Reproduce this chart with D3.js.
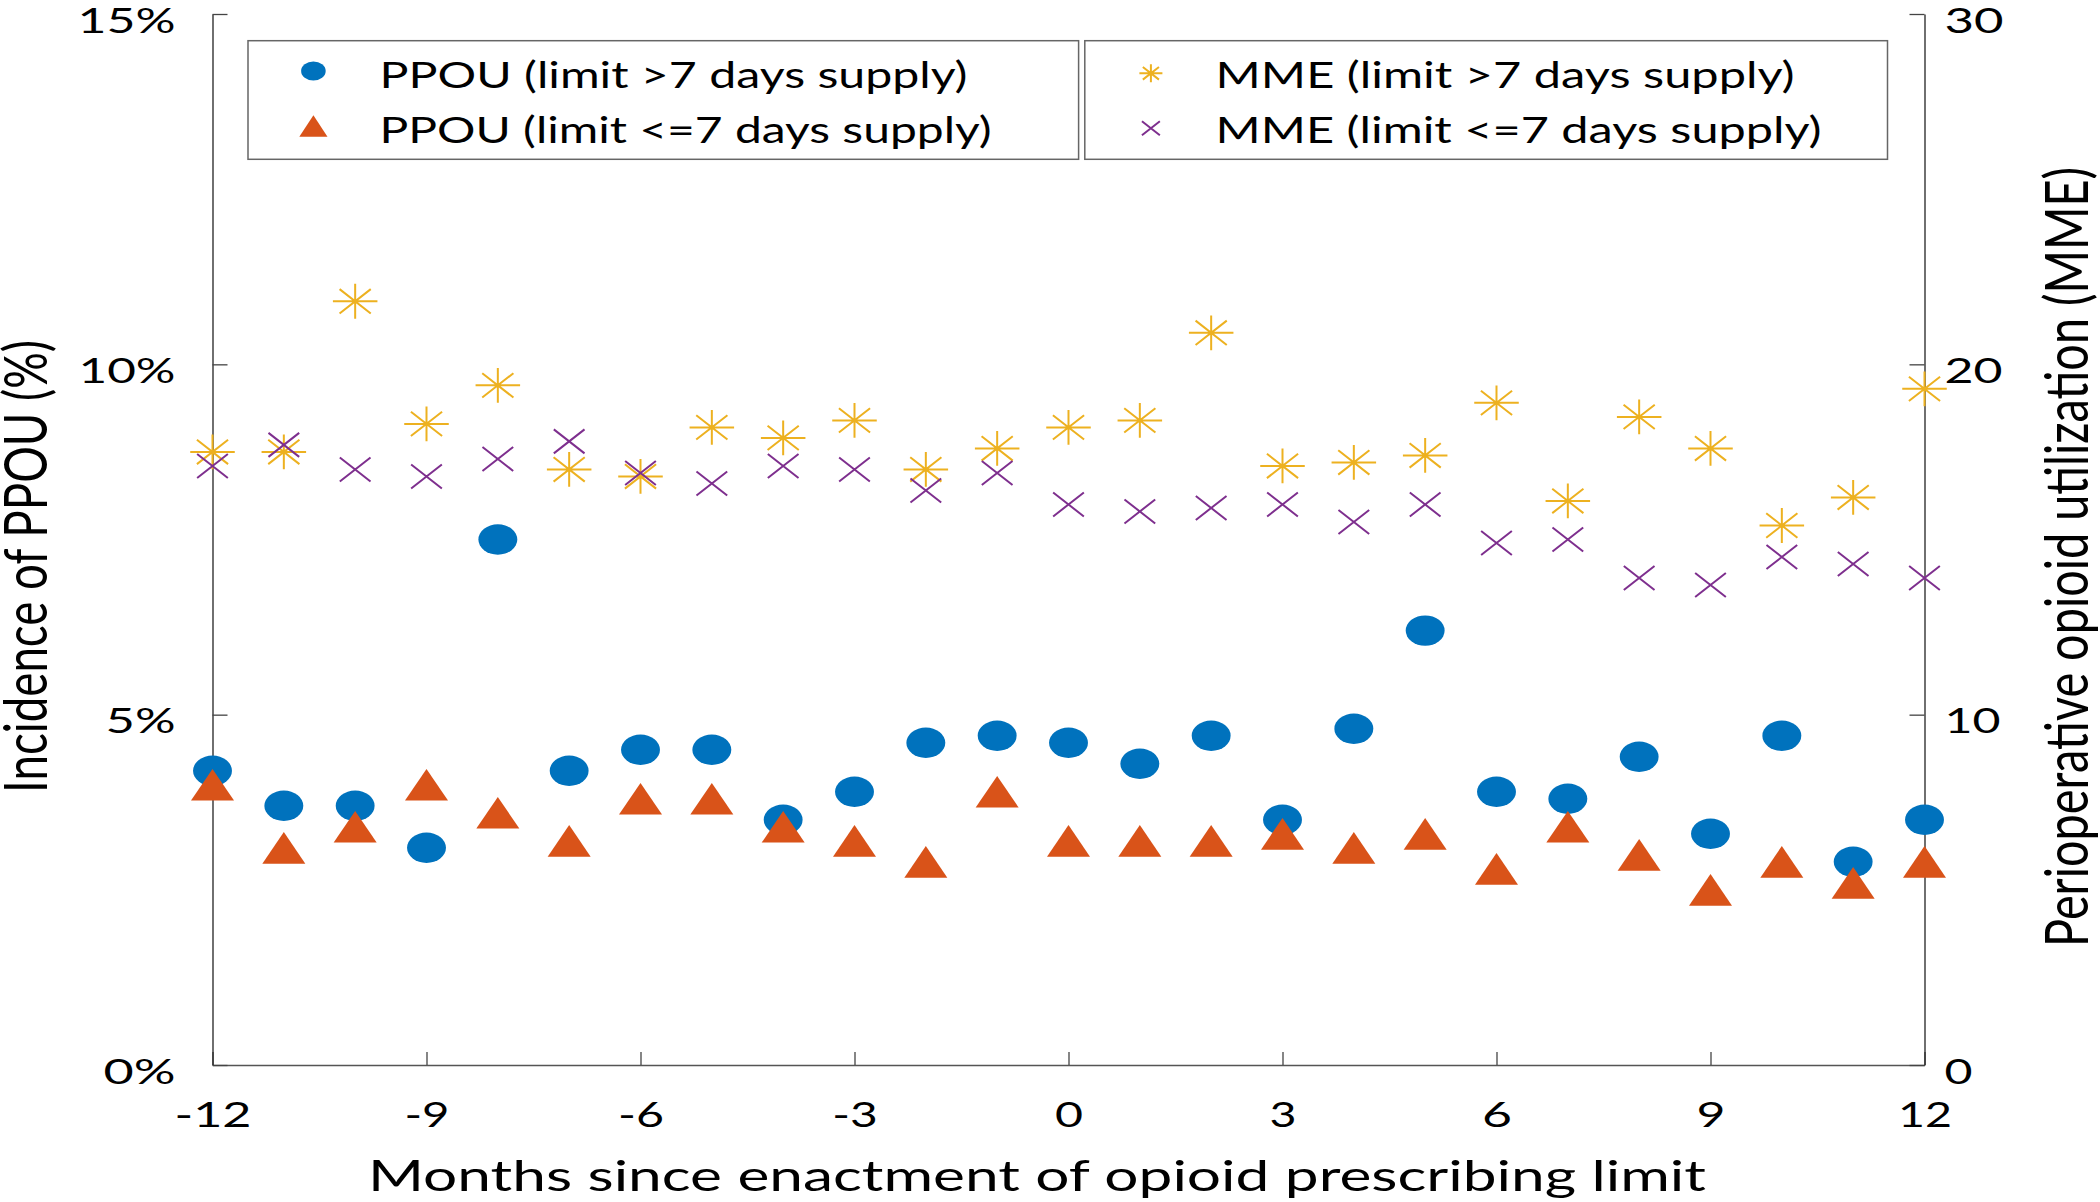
<!DOCTYPE html>
<html><head><meta charset="utf-8">
<script src="https://cdn.jsdelivr.net/npm/d3@7"></script>
<style>body{margin:0;background:#fff}svg{display:block}text{font-family:Lato,"Open Sans",sans-serif;fill:#000}</style>
</head><body><svg id="c" width="2100" height="1202"></svg>
<script>
const months = [-12,-11,-10,-9,-8,-7,-6,-5,-4,-3,-2,-1,0,1,2,3,4,5,6,7,8,9,10,11,12];
const ppouOver7  = [4.2,3.7,3.7,3.1,7.5,4.2,4.5,4.5,3.5,3.9,4.6,4.7,4.6,4.3,4.7,3.5,4.8,6.2,3.9,3.8,4.4,3.3,4.7,2.9,3.5];
const ppouUnder7 = [4.0,3.1,3.4,4.0,3.6,3.2,3.8,3.8,3.4,3.2,2.9,3.9,3.2,3.2,3.2,3.3,3.1,3.3,2.8,3.4,3.0,2.5,2.9,2.6,2.9];
const mmeOver7   = [17.5,17.5,21.8,18.3,19.4,17.0,16.8,18.2,17.9,18.4,17.0,17.6,18.2,18.4,20.9,17.1,17.2,17.4,18.9,16.1,18.5,17.6,15.4,16.2,19.3];
const mmeUnder7  = [17.1,17.7,17.0,16.8,17.3,17.8,16.9,16.6,17.1,17.0,16.4,16.9,16.0,15.8,15.9,16.0,15.5,16.0,14.9,15.0,13.9,13.7,14.5,14.3,13.9];
const xTicks = [-12,-9,-6,-3,0,3,6,9,12];
const xTickLabels = ["-12","-9","-6","-3","0","3","6","9","12"];
const yLeftTicks = [0,5,10,15];
const yLeftLabels = ["0%","5%","10%","15%"];
const yRightTicks = [0,10,20,30];
const yRightLabels = ["0","10","20","30"];
const legendLabels = ["PPOU (limit >7 days supply)","PPOU (limit <=7 days supply)","MME (limit >7 days supply)","MME (limit <=7 days supply)"];
const xTitle = "Months since enactment of opioid prescribing limit";
const yLeftTitle = "Incidence of PPOU (%)";
const yRightTitle = "Perioperative opioid utilization (MME)";

const C = {blue:"#0072BD", orange:"#D95319", yellow:"#EDB120", purple:"#7E2F8E"};
const S = 1.28; // horizontal stretch of the reference
const svg = d3.select("#c");
const L = 212.5, R = 1924.5, T = 14, B = 1065;
const x = d3.scaleLinear().domain([-12,12]).range([L,R]);
const yL = d3.scaleLinear().domain([0,15]).range([B,T]);
const yR = d3.scaleLinear().domain([0,30]).range([B,T]);

// width of each tick label as drawn (pixels), used to fit the stretched look
const tickWidth = {"-12":77,"-9":45,"-6":46,"-3":45.5,"0":28,"3":27,"6":30,"9":29,"12":54,
                   "0%":72,"5%":70,"10%":97,"15%":98,"10":56,"20":58,"30":59};
function fitText(sel){ sel.attr("textLength",function(){return tickWidth[this.textContent]/S;})
  .attr("lengthAdjust","spacingAndGlyphs"); }

// axes
const gx = svg.append("g").attr("transform",`translate(0,${B})`)
  .call(d3.axisBottom(x).tickValues(xTicks).tickFormat((d,i)=>xTickLabels[i]).tickSizeInner(-13).tickSizeOuter(0));
gx.select(".domain").attr("stroke","#555").attr("stroke-width",1.6);
gx.selectAll(".tick line").attr("stroke","#444").attr("stroke-width",1.3);
gx.selectAll(".tick text").attr("y",null).attr("dy",null).attr("font-size",35).attr("font-family","Lato")
  .attr("fill","#000").attr("text-anchor","middle").attr("transform",`translate(0,62) scale(${S},1)`).call(fitText);

const gl = svg.append("g").attr("transform",`translate(${L},0)`)
  .call(d3.axisLeft(yL).tickValues(yLeftTicks).tickFormat((d,i)=>yLeftLabels[i]).tickSizeInner(-15).tickSizeOuter(0));
gl.select(".domain").attr("stroke","#222").attr("stroke-width",1.3);
gl.selectAll(".tick line").attr("stroke","#444").attr("stroke-width",1.3);
gl.selectAll(".tick text").attr("x",null).attr("dy",null).attr("font-size",35).attr("font-family","Lato")
  .attr("fill","#000").attr("text-anchor","end").attr("transform",`translate(-37,18) scale(${S},1)`).call(fitText);

const gr = svg.append("g").attr("transform",`translate(${R},0)`)
  .call(d3.axisRight(yR).tickValues(yRightTicks).tickFormat((d,i)=>yRightLabels[i]).tickSizeInner(-15).tickSizeOuter(0));
gr.select(".domain").attr("stroke","#222").attr("stroke-width",1.3);
gr.selectAll(".tick line").attr("stroke","#444").attr("stroke-width",1.3);
gr.selectAll(".tick text").attr("x",null).attr("dy",null).attr("font-size",35).attr("font-family","Lato")
  .attr("fill","#000").attr("text-anchor","start").attr("transform",`translate(20,18) scale(${S},1)`).call(fitText);

// axis titles
svg.append("text").attr("x",368).attr("y",1191).attr("font-size",42)
  .attr("textLength",1338).attr("lengthAdjust","spacingAndGlyphs").text(xTitle);
svg.append("text").attr("transform",`translate(47,566.5) scale(${S},1) rotate(-90)`)
  .attr("text-anchor","middle").attr("font-size",47).attr("textLength",453).attr("lengthAdjust","spacingAndGlyphs").text(yLeftTitle);
svg.append("text").attr("transform",`translate(2088,557) scale(${S},1) rotate(-90)`)
  .attr("text-anchor","middle").attr("font-size",47).attr("textLength",780).attr("lengthAdjust","spacingAndGlyphs").text(yRightTitle);

// marker shapes (unstretched local units)
function circleM(g,r,col){ g.append("circle").attr("r",r).attr("fill",col); }
function triM(g,w,h,col){ g.append("path").attr("d",`M0,${-h/2}L${w/2},${h/2}L${-w/2},${h/2}Z`).attr("fill",col); }
function starM(g,r,col,sw){ const d=r*0.7;
  g.append("path").attr("d",`M0,${-r}V${r}M${-r},0H${r}M${-d},${-d}L${d},${d}M${-d},${d}L${d},${-d}`)
   .attr("stroke",col).attr("stroke-width",sw).attr("fill","none").attr("vector-effect","non-scaling-stroke"); }
function xM(g,r,col,sw){
  g.append("path").attr("d",`M${-r},${-r}L${r},${r}M${-r},${r}L${r},${-r}`)
   .attr("stroke",col).attr("stroke-width",sw).attr("fill","none").attr("vector-effect","non-scaling-stroke"); }

function series(vals, yScale, draw){
  svg.append("g").selectAll("g").data(months.map((m,i)=>[m,vals[i]])).join("g")
    .attr("transform",d=>`translate(${x(d[0])},${yScale(d[1])}) scale(${S},1)`)
    .each(function(){ draw(d3.select(this)); });
}
series(ppouOver7, yL, g=>circleM(g,15.2,C.blue));
series(ppouUnder7, yL, g=>triM(g,33.6,31.7,C.orange));
series(mmeOver7, yR, g=>starM(g,17.4,C.yellow,2));
series(mmeUnder7, yR, g=>xM(g,12,C.purple,2));

// legend
const lg = svg.append("g");
lg.append("rect").attr("x",248).attr("y",40.7).attr("width",1078.6-248).attr("height",118.6)
  .attr("fill","#fff").attr("stroke","#666").attr("stroke-width",1.5);
lg.append("rect").attr("x",1084.8).attr("y",40.7).attr("width",1887.5-1084.8).attr("height",118.6)
  .attr("fill","#fff").attr("stroke","#666").attr("stroke-width",1.5);
const lm = (px,py)=>lg.append("g").attr("transform",`translate(${px},${py}) scale(${S},1)`);
circleM(lm(313.4,71),9.6,C.blue);
triM(lm(313.4,126),22,21.7,C.orange);
starM(lm(1150.9,73.3),9,C.yellow,2);
xM(lm(1150.9,128.3),7,C.purple,2);
const lt = [[379.5,88.3,588],[379.5,143.3,612],[1215.6,88.3,579],[1215.6,143.3,606]];
lt.forEach((p,i)=>lg.append("text").attr("x",p[0]).attr("y",p[1]).attr("font-size",37)
  .attr("textLength",p[2]).attr("lengthAdjust","spacingAndGlyphs").text(legendLabels[i]));
</script></body></html>
